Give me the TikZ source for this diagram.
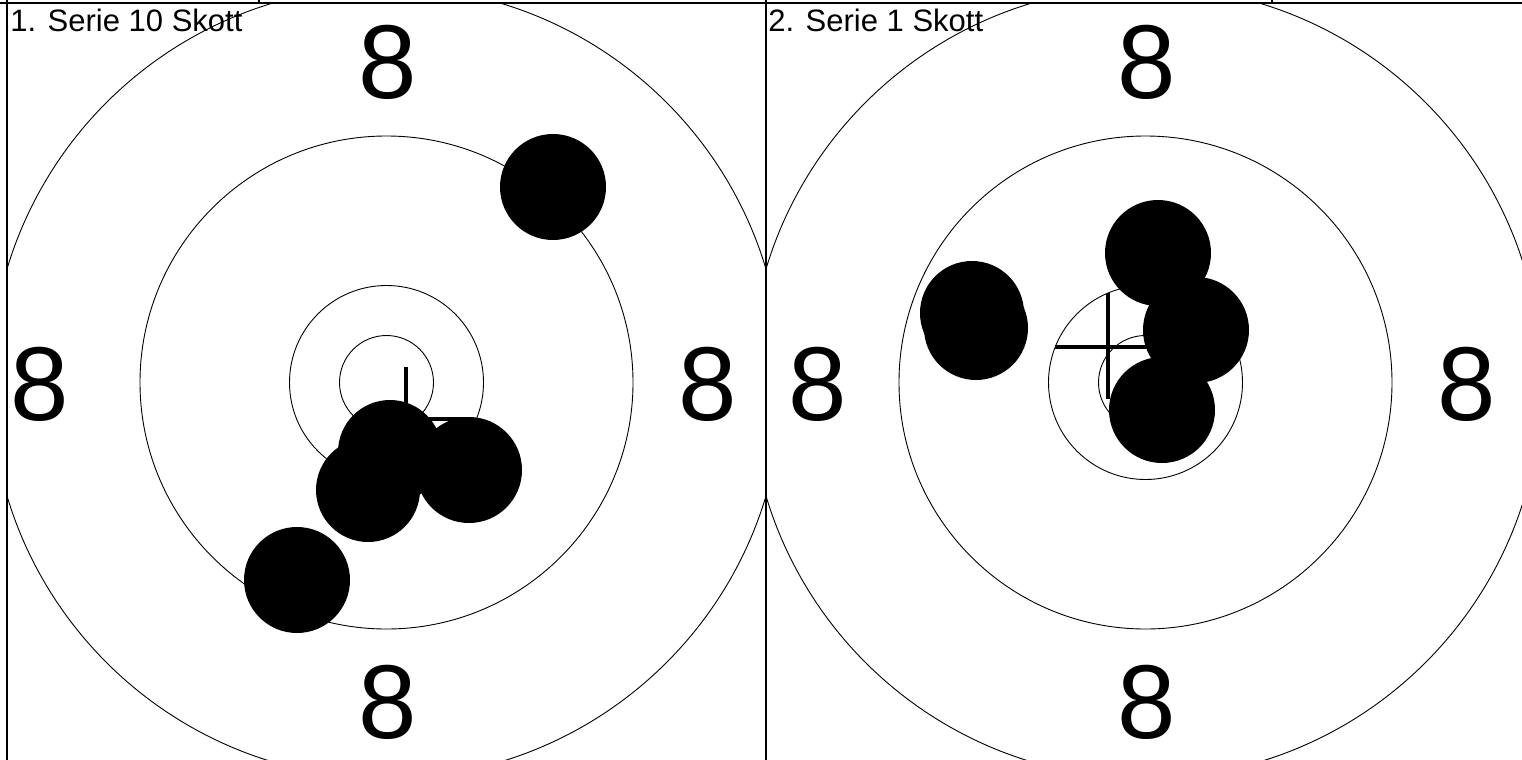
\documentclass[tikz,border=0pt]{standalone}
\usepackage{fontspec}
\setmainfont{Liberation Sans}

\begin{document}
\begin{tikzpicture}[
  x=0.5pt, y=-0.5pt,
  ring/.style={draw=black, line width=0.45pt},
  hole/.style={fill=black},
  aim/.style={draw=black, line width=2pt},
  frame/.style={draw=black, line width=0.8pt},
  score/.style={font=\fontsize{52.5}{52.5}\selectfont, inner sep=0pt},
  heading/.style={font=\fontsize{15.5}{16}\selectfont, inner sep=0pt, anchor=base west}]

    \useasboundingbox (0,0) rectangle (1522,760);

    \coordinate (c1) at (386.5,382.5);
    \coordinate (c2) at (1145.5,382.5);

    % first target
    \begin{scope}
      \clip (7,3) rectangle (766,760);
      \draw[ring] (c1) circle [radius=396];
      \draw[ring] (c1) circle [radius=246.5];
      \draw[ring] (c1) circle [radius=97];
      \draw[ring] (c1) circle [radius=47];
    \end{scope}

    % second target
    \begin{scope}
      \clip (766,3) rectangle (1522,760);
      \draw[ring] (c2) circle [radius=396];
      \draw[ring] (c2) circle [radius=246.5];
      \draw[ring] (c2) circle [radius=97];
      \draw[ring] (c2) circle [radius=47];
    \end{scope}

    \node[score] at (388,62.5) (t1) {8};
    \node[score] at (40,384) (l1) {8};
    \node[score] at (708,384) (r1) {8};
    \node[score] at (388,702.5) (b1) {8};

    \node[score] at (1147,62.5) (t2) {8};
    \node[score] at (818,384) (l2) {8};
    \node[score] at (1467,384) (r2) {8};
    \node[score] at (1147,702.5) (b2) {8};

    \draw[aim] (405.5,367) -- (405.5,471);
    \draw[aim] (353,419) -- (466,419);
    \draw[aim] (1108,293) -- (1108,399);
    \draw[aim] (1055,347) -- (1161,347);

    \fill[hole] (553,187) circle [radius=53];
    \fill[hole] (469,470) circle [radius=53];
    \fill[hole] (390,452) circle [radius=52];
    \fill[hole] (368,490) circle [radius=52];
    \fill[hole] (297,580) circle [radius=53];

    \fill[hole] (972,313) circle [radius=52];
    \fill[hole] (976,328) circle [radius=52];
    \fill[hole] (1158,253) circle [radius=53];
    \fill[hole] (1196,330) circle [radius=53];
    \fill[hole] (1162,410) circle [radius=53];

    \node[heading] at (10,32) (h1) {1. Serie 10 Skott};
    \node[heading] at (768,32) (h2) {2. Serie 1 Skott};

    \draw[frame] (0,3) -- (1522,3);
    \draw[frame] (7,0) -- (7,760);
    \draw[frame] (766,0) -- (766,760);
    \draw[frame] (259,0) -- (259,3);
    \draw[frame] (1272,0) -- (1272,3);

\end{tikzpicture}
\end{document}
